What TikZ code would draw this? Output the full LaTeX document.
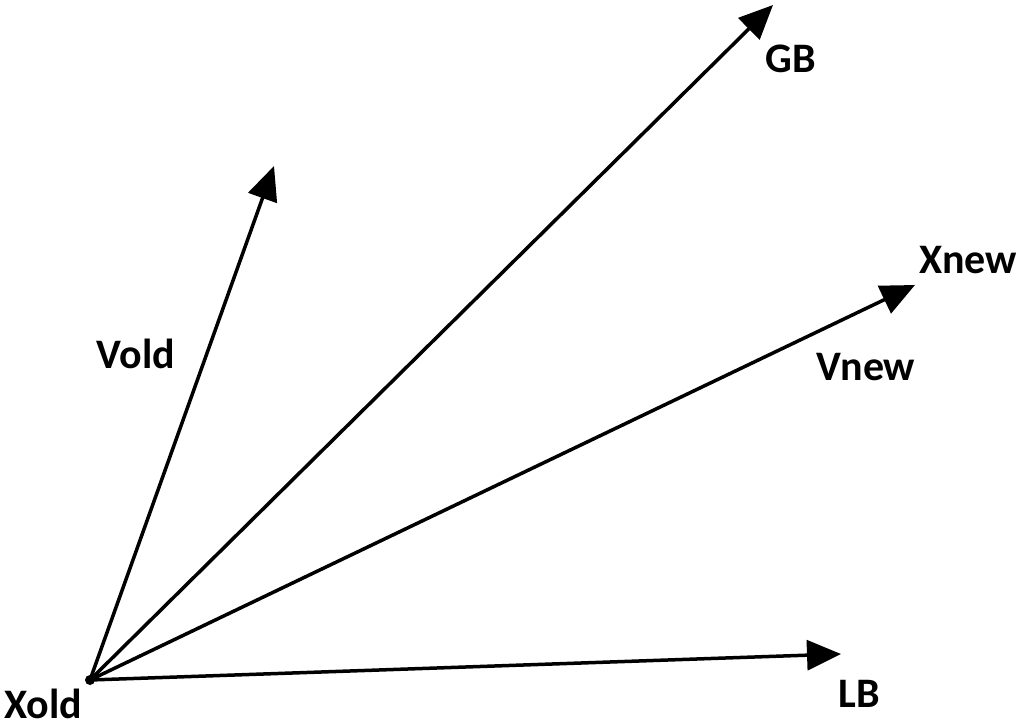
\documentclass[tikz,border=0pt]{standalone}
\usepackage{fontspec}
\setmainfont{Carlito}
\usetikzlibrary{arrows.meta}
\begin{document}
\begin{tikzpicture}[x=1pt,y=-1pt,
  vec/.style={line width=3.5pt,-{Triangle[length=34pt,width=30pt]}},
  lbl/.style={font=\fontsize{42}{42}\selectfont\bfseries,anchor=base,inner sep=0pt}]
\useasboundingbox (0,0) rectangle (1024,727);
\coordinate (xo) at (90,680);
\coordinate (vold) at (274,166);
\coordinate (gb) at (773,5);
\coordinate (xnew) at (915,285);
\coordinate (lb) at (841,654);
\draw[vec] (xo) -- (vold);
\draw[vec] (xo) -- (gb);
\draw[vec] (xo) -- (xnew);
\draw[vec] (xo) -- (lb);
\fill (xo) circle (5pt);
\node[lbl] (lxold) at (43,718) {Xold};
\node[lbl] (lvold) at (136,368) {Vold};
\node[lbl] (lgb) at (791,73) {GB};
\node[lbl] (lxnew) at (968,273) {Xnew};
\node[lbl] (lvnew) at (866,380) {Vnew};
\node[lbl] (llb) at (859,707) {LB};
\end{tikzpicture}
\end{document}
